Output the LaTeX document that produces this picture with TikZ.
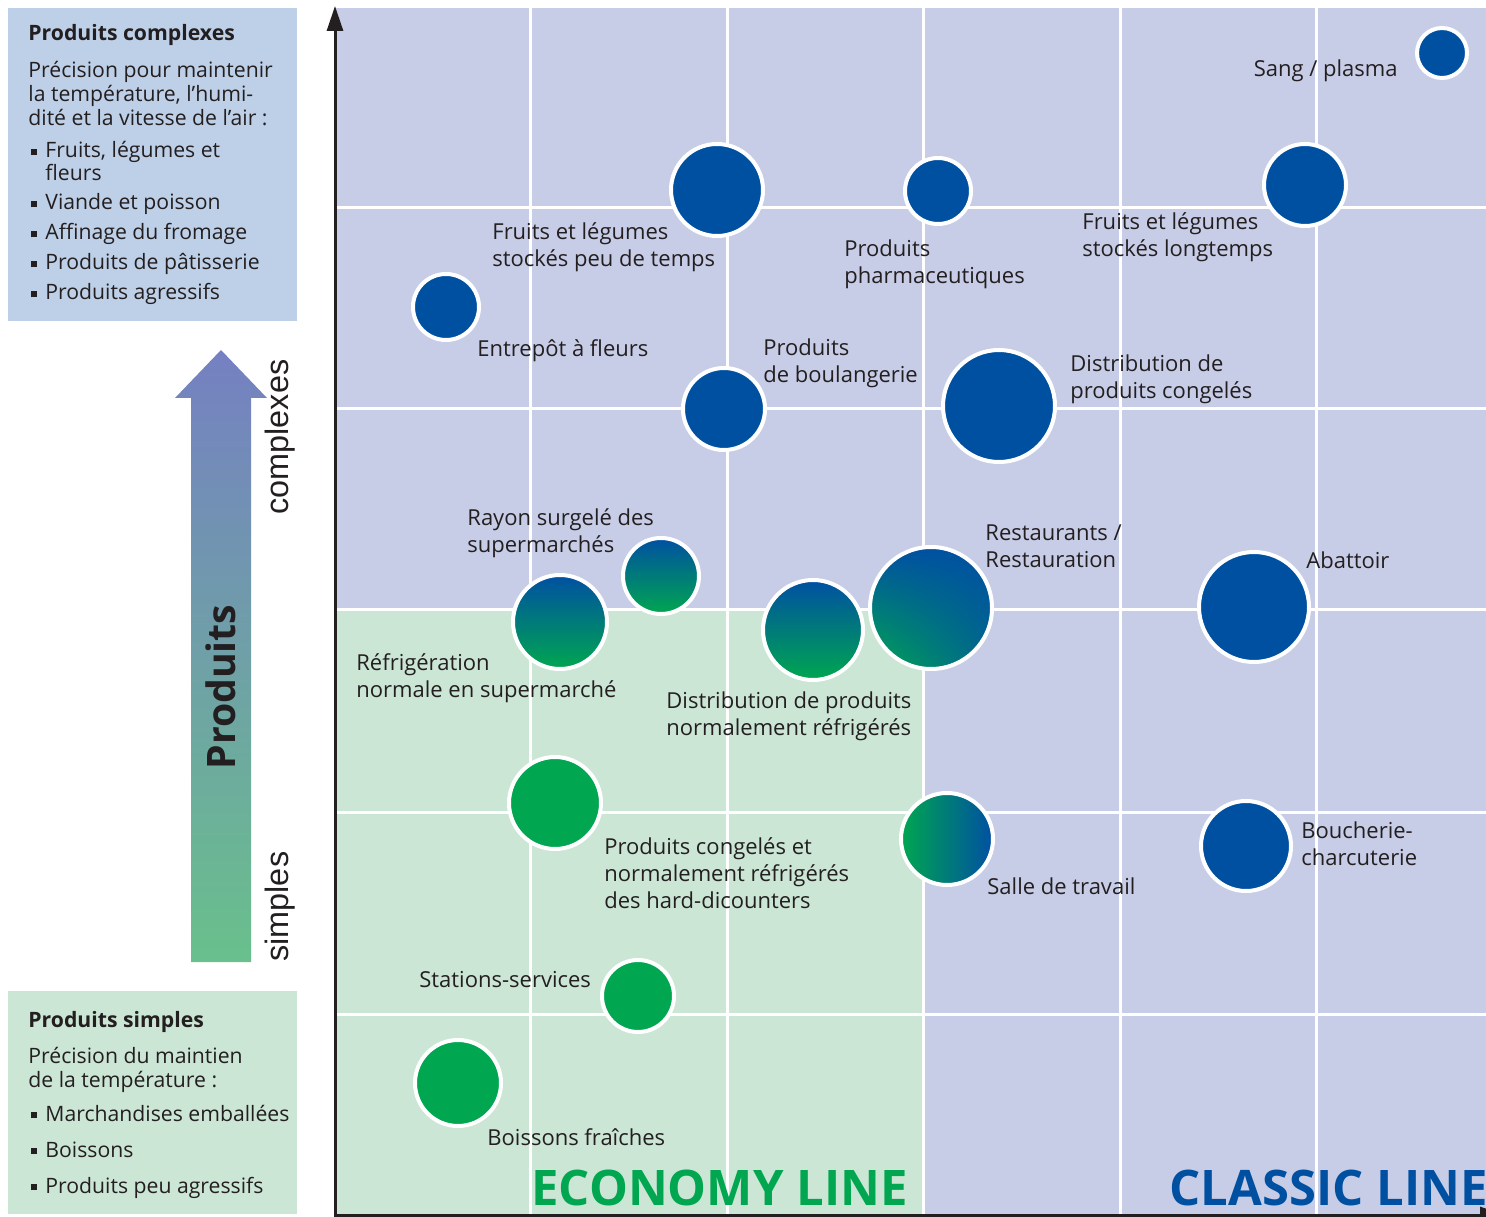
\documentclass[tikz,border=0pt]{standalone}
\usepackage{fontspec}
\setmainfont{Open Sans}
\newfontfamily\axefont{Liberation Sans}
\usetikzlibrary{arrows.meta,shadings}

\definecolor{fondbleu}{RGB}{200,205,231}
\definecolor{fondvert}{RGB}{204,230,213}
\definecolor{cadrebleu}{RGB}{190,208,232}
\definecolor{bleu}{RGB}{0,80,162}
\definecolor{vert}{RGB}{0,166,80}
\definecolor{texte}{RGB}{35,31,32}
\definecolor{flechehaut}{RGB}{117,128,194}
\definecolor{flechebas}{RGB}{105,192,140}
\newcommand\puce{\hspace{1.5bp}\rule[0.12em]{3bp}{3bp}\hspace{4bp}}

\begin{document}
\begin{tikzpicture}[
      x=0.5bp, y=-0.5bp,
      bulle/.style={circle, draw=white, line width=2bp, inner sep=0, fill=bleu, minimum size=#1},
      bulleverte/.style={bulle=#1, fill=vert},
      etiquette/.style={font=\fontsize{11bp}{13.5bp}\selectfont, text=texte, align=left, inner sep=0, anchor=base west},
      encadre/.style={etiquette, font=\fontsize{10.6bp}{11.5bp}\selectfont},
      grille/.style={white, line width=1.5bp},
      axe/.style={texte, line width=1.5bp, -{Triangle[width=8bp,length=12.5bp]}},
      ligne/.style={font=\fontsize{24.5bp}{30bp}\selectfont\bfseries, inner sep=0}
      ]
      \useasboundingbox (0,0) rectangle (1486,1217);

      % fond du graphique
      \fill[fondbleu] (336,8) rectangle (1486,1215);
      \fill[fondvert] (336,610) rectangle (923,1215);
      \foreach \x in {530,727,923,1120,1316}
        \draw[grille] (\x,8) -- (\x,1215);
      \foreach \y in {208,409,610,812,1014}
        \draw[grille] (336,\y) -- (1486,\y);
      \draw[axe] (335,1216) -- (335,6);
      \draw[axe] (334,1215) -- (1505,1215);

      % encadres de gauche (ancre sur la derniere ligne)
      \fill[cadrebleu] (8,8) rectangle (297,321);
      \fill[fondvert] (8,991) rectangle (297,1214);
      \node[encadre] (complexes) at (28,300) {{\bfseries Produits complexes}\\[7bp]
        Précision pour maintenir\\[0.5bp]
        la température, l’humi-\\[0.5bp]
        dité et la vitesse de l’air :\\[4.5bp]
        \puce Fruits, légumes et\\
        \phantom{\puce}fleurs\\[3bp]
        \puce Viande et poisson\\[3.5bp]
        \puce Affinage du fromage\\[3.5bp]
        \puce Produits de pâtisserie\\[3.5bp]
        \puce Produits agressifs};
      \node[encadre] (simples) at (28,1193) {{\bfseries Produits simples}\\[6.5bp]
        Précision du maintien\\[0.5bp]
        de la température :\\[5.5bp]
        \puce Marchandises emballées\\[6.5bp]
        \puce Boissons\\[6.5bp]
        \puce Produits peu agressifs};

      % fleche des produits
      \shade[top color=flechehaut, bottom color=flechebas]
        (191,962) -- (251,962) -- (251,398) -- (267,398) -- (221,350)
        -- (175,398) -- (191,398) -- cycle;
      \node[rotate=90, anchor=base west, inner sep=0, text=texte,
        font=\fontsize{19.6bp}{24bp}\selectfont\bfseries] (produits) at (235,770) {Produits};
      \node[rotate=90, anchor=base west, inner sep=0, text=texte,
        font=\axefont\fontsize{16.2bp}{19bp}\selectfont] (haut) at (288,515) {complexes};
      \node[rotate=90, anchor=base west, inner sep=0, text=texte,
        font=\axefont\fontsize{16.2bp}{19bp}\selectfont] (bas) at (288,962) {simples};

      % bulles
      \node[bulle=25bp] (sang) at (1442,53) {};
      \node[bulle=46bp] (fruitscourt) at (717,190) {};
      \node[bulle=33bp] (pharma) at (938,191) {};
      \node[bulle=41bp] (fruitslong) at (1305,185) {};
      \node[bulle=33bp] (fleurs) at (446,307) {};
      \node[bulle=41bp] (boulangerie) at (724,409) {};
      \node[bulle=56bp] (congeles) at (999,406) {};
      \node[bulle=38bp, top color=bleu, middle color=bleu!70!vert, bottom color=vert] (rayon) at (661,576) {};
      \node[bulle=47bp, top color=bleu, middle color=bleu!50!vert, bottom color=vert] (refrig) at (560,622) {};
      \node[bulle=50bp, top color=bleu, middle color=bleu!50!vert, bottom color=vert] (distrib) at (813,630) {};
      \node[bulle=61bp, upper left=bleu, upper right=bleu, lower right=bleu!75!vert, lower left=vert] (restau) at (931,608) {};
      \node[bulle=55bp] (abattoir) at (1254,607) {};
      \node[bulleverte=46bp] (hard) at (555,803) {};
      \node[bulle=46bp, left color=vert, middle color=bleu!80!vert, right color=bleu] (salle) at (947,839) {};
      \node[bulle=45bp] (boucherie) at (1246,846) {};
      \node[bulleverte=36bp] (stations) at (638,996) {};
      \node[bulleverte=43bp] (boissons) at (458,1083) {};

      % etiquettes
      \node[etiquette, anchor=base east] (lsang) at (1398,77) {Sang / plasma};
      \node[etiquette] (lfruitscourt) at (492,267) {Fruits et légumes\\stockés peu de temps};
      \node[etiquette] (lpharma) at (844,284) {Produits\\pharmaceutiques};
      \node[etiquette] (lfruitslong) at (1082,257) {Fruits et légumes\\stockés longtemps};
      \node[etiquette] (lfleurs) at (477,357) {Entrepôt à fleurs};
      \node[etiquette] (lboulangerie) at (763,383) {Produits\\de boulangerie};
      \node[etiquette] (lcongeles) at (1070,399) {Distribution de\\produits congelés};
      \node[etiquette] (lrayon) at (467,553) {Rayon surgelé des\\supermarchés};
      \node[etiquette] (lrefrig) at (356,697) {Réfrigération\\normale en supermarché};
      \node[etiquette] (ldistrib) at (666,735) {Distribution de produits\\normalement réfrigérés};
      \node[etiquette] (lrestau) at (985,568) {Restaurants /\\Restauration};
      \node[etiquette] (labattoir) at (1306,569) {Abattoir};
      \node[etiquette] (lhard) at (604,908) {Produits congelés et\\normalement réfrigérés\\des hard-dicounters};
      \node[etiquette] (lsalle) at (987,894) {Salle de travail};
      \node[etiquette] (lboucherie) at (1301,865) {Boucherie-\\charcuterie};
      \node[etiquette] (lstations) at (419,987) {Stations-services};
      \node[etiquette] (lboissons) at (487,1145) {Boissons fraîches};

      \node[ligne, text=vert, anchor=base west] (economy) at (531,1205) {ECONOMY LINE};
      \node[ligne, text=bleu, anchor=base east] (classic) at (1488,1205) {CLASSIC LINE};
\end{tikzpicture}
\end{document}
